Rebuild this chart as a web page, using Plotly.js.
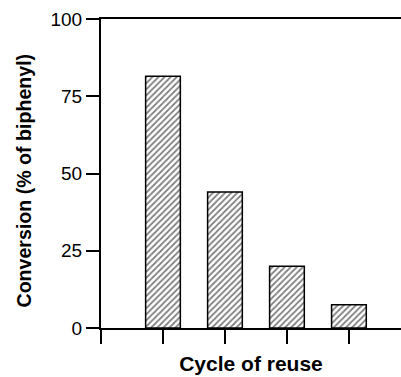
<!DOCTYPE html>
<html>
<head>
<meta charset="utf-8">
<script src="https://cdn.plot.ly/plotly-3.0.1.min.js"></script>
<style>html,body{margin:0;padding:0;background:#fff;}#chart{width:401px;height:377px;}</style>
</head>
<body>
<div id="chart"></div>
<script>
const cycles = [1, 2, 3, 4];
const conversion = [81.5, 44, 20, 7.5];
const yTicks = [0, 25, 50, 75, 100];
const xTitle = "Cycle of reuse";
const yTitle = "Conversion (% of biphenyl)";

const trace = {
  type: "bar",
  x: cycles,
  y: conversion,
  width: 0.56,
  marker: {
    color: "white",
    line: {color: "black", width: 1.5},
    pattern: {shape: "/", size: 4.3, solidity: 0.4, fgcolor: "black", bgcolor: "white", fillmode: "overlay"}
  },
  hoverinfo: "skip"
};

const layout = {
  width: 401, height: 377,
  margin: {l: 101, r: 0, t: 19, b: 49},
  paper_bgcolor: "white", plot_bgcolor: "white",
  showlegend: false,
  font: {family: "Liberation Sans, Arial, sans-serif", color: "black"},
  annotations: [{
    text: yTitle, xref: "paper", yref: "paper",
    x: -0.2583, y: 0.4757, xanchor: "center", yanchor: "middle",
    textangle: -90, showarrow: false,
    font: {size: 19.6, weight: "bold", color: "black"}
  }],
  xaxis: {
    range: [0, 4.84],
    tickvals: [0, 1, 2, 3, 4],
    ticktext: ["", "", "", "", ""],
    ticks: "outside", ticklen: 14, tickwidth: 2, tickcolor: "black",
    showline: true, linewidth: 2, linecolor: "black", mirror: true,
    showgrid: false, zeroline: false,
    title: {text: xTitle, font: {size: 21, weight: "bold"}, standoff: 11}
  },
  yaxis: {
    range: [0, 100],
    tickvals: yTicks,
    ticks: "outside", ticklen: 13, tickwidth: 2, tickcolor: "black",
    showline: true, linewidth: 2, linecolor: "black",
    showgrid: false, zeroline: false,
    tickfont: {size: 19}
  }
};

Plotly.newPlot("chart", [trace], layout, {staticPlot: true, displayModeBar: false});
</script>
</body>
</html>
